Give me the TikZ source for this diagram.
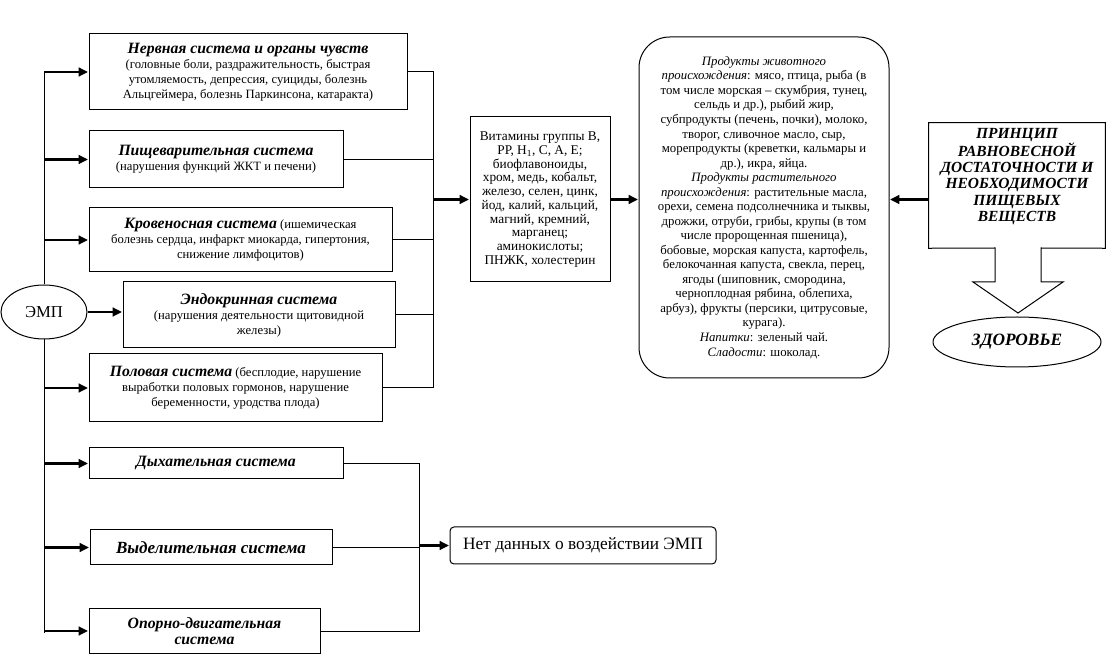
\documentclass[tikz,border=0pt]{standalone}
\usepackage{fontspec}
\setmainfont{Liberation Serif}
\usetikzlibrary{arrows.meta,shapes.geometric}
\newcommand\hdg[1]{{\fontsize{11.8}{13.5}\selectfont\bfseries\itshape #1}}
\begin{document}
\begin{tikzpicture}[x=0.75pt,y=-0.75pt,
  box/.style={draw, line width=0.75pt, align=center, inner sep=0pt, font=\fontsize{9.5}{11.25}\selectfont},
  ln/.style={line width=0.75pt},
  arr/.style={line width=2.2pt, -{Triangle[length=7pt,width=6.5pt]}, shorten >=0.4pt}]
\useasboundingbox (0,0) rectangle (1107,655);

% left boxes
\node[box, minimum width=238.5pt, minimum height=57pt] (n1) at (248,72)
 {\hdg{Нервная система и органы чувств}\\(головные боли, раздражительность, быстрая\\утомляемость, депрессия, суициды, болезнь\\Альцгеймера, болезнь Паркинсона, катаракта)};
\node[box, minimum width=190.5pt, minimum height=42.75pt] (n2) at (216,159.5)
 {\hdg{Пищеварительная система}\\(нарушения функций ЖКТ и печени)};
\node[box, minimum width=227.25pt, minimum height=48pt] (n3) at (240.5,240)
 {\hdg{Кровеносная система} (ишемическая\\болезнь сердца, инфаркт миокарда, гипертония,\\снижение лимфоцитов)};
\node[box, minimum width=204pt, minimum height=49.5pt] (n4) at (259,315)
 {\hdg{Эндокринная система}\\(нарушения деятельности щитовидной\\железы)};
\node[box, minimum width=219.75pt, minimum height=51pt] (n5) at (235.5,388)
 {\hdg{Половая система} (бесплодие, нарушение\\выработки половых гормонов, нарушение\\беременности, уродства плода)};
\node[box, minimum width=190.5pt, minimum height=23.25pt] (n6) at (216,463.5)
 {\hdg{Дыхательная система}};
\node[box, minimum width=181.5pt, minimum height=26.25pt] (n7) at (211,547.5)
 {{\fontsize{12.8}{14}\selectfont\bfseries\itshape Выделительная система}};
\node[box, minimum width=173.25pt, minimum height=33pt] (n8) at (204.5,631)
 {\hdg{Опорно-двигательная}\\[1pt]\hdg{система}};

% EMP
\node[draw, ellipse, fill=white, line width=0.75pt, inner sep=0pt, minimum width=64.5pt, minimum height=40.5pt,
  font=\fontsize{12.5}{14}\selectfont] (emp) at (44,312) {ЭМП};

% middle / right
\node[box, minimum width=105pt, minimum height=123.75pt, font=\fontsize{10}{10.3}\selectfont] (vit) at (540,199.5)
 {Витамины группы В,\\РР, Н\textsubscript{1}, С, А, Е;\\биофлавоноиды,\\хром, медь, кобальт,\\железо, селен, цинк,\\йод, калий, кальций,\\магний, кремний,\\марганец;\\аминокислоты;\\ПНЖК, холестерин};
\node[box, rounded corners=23pt, minimum width=187.5pt, minimum height=255.75pt, font=\fontsize{9.6}{10.9}\selectfont] (food) at (764,207.5)
 {\textit{Продукты животного}\\\textit{происхождения}: мясо, птица, рыба (в\\том числе морская -- скумбрия, тунец,\\сельдь и др.), рыбий жир,\\субпродукты (печень, почки), молоко,\\творог, сливочное масло, сыр,\\морепродукты (креветки, кальмары и\\др.), икра, яйца.\\\textit{Продукты растительного}\\\textit{происхождения}: растительные масла,\\орехи, семена подсолнечника и тыквы,\\дрожжи, отруби, грибы, крупы (в том\\числе пророщенная пшеница),\\бобовые, морская капуста, картофель,\\белокочанная капуста, свекла, перец,\\ягоды (шиповник, смородина,\\черноплодная рябина, облепиха,\\арбуз), фрукты (персики, цитрусовые,\\курага).\\\textit{Напитки}: зеленый чай.\\\textit{Сладости}: шоколад.};
\node[align=center, inner sep=0pt, minimum width=132pt, minimum height=93.75pt,
  font=\fontsize{11.6}{12.2}\selectfont\bfseries\itshape] (pr) at (1017,185.5)
 {ПРИНЦИП\\РАВНОВЕСНОЙ\\ДОСТАТОЧНОСТИ И\\НЕОБХОДИМОСТИ\\ПИЩЕВЫХ\\ВЕЩЕСТВ\\[4pt]};
\draw[ln] (pr.north west) -- (pr.north east) -- (pr.south east) -- (1041,248) -- (1041,282) -- (1063,282)
  -- (1018,313) -- (973,282) -- (995,282) -- (995,248) -- (pr.south west) -- cycle;
\node[draw, ellipse, line width=0.75pt, inner sep=0pt, minimum width=126pt, minimum height=37.5pt] (hl) at (1017,342)
 {{\fontsize{13}{14}\selectfont\bfseries\itshape ЗДОРОВЬЕ}};
\node[box, rounded corners=3pt, minimum width=199.5pt, minimum height=27.75pt, font=\fontsize{13}{14}\selectfont] (nd) at (583,545.5)
 {Нет данных о воздействии ЭМП};

% coordinates for buses
\coordinate (rx) at (433,0);
\coordinate (bx) at (419,0);
\coordinate (lb) at (44,633);

% left bus
\draw[ln] (emp.north) -- (emp.north |- n1.west);
\draw[ln] (emp.south) -- (lb);
\foreach \n in {n1,n2,n3,n5,n6,n7,n8}
  \draw[arr] (emp.north |- \n.west) -- (\n.west);
\draw[arr] (emp.east) -- (emp.east -| n4.west);

% right bus (upper)
\draw[ln] (n1.east) -- (n1.east -| rx) -- (n5.east -| rx) -- (n5.east);
\foreach \n in {n2,n3,n4}
  \draw[ln] (\n.east) -- (\n.east -| rx);
\draw[arr] (vit.west -| rx) -- (vit.west);
\draw[arr] (vit.east) -- (vit.east -| food.west);
\draw[arr] (vit.east -| pr.west) -- (vit.east -| food.east);

% lower bus
\draw[ln] (n6.east) -- (n6.east -| bx) -- (n8.east -| bx) -- (n8.east);
\draw[ln] (n7.east) -- (n7.east -| bx);
\draw[arr] (nd.west -| bx) -- (nd.west);
\end{tikzpicture}
\end{document}
